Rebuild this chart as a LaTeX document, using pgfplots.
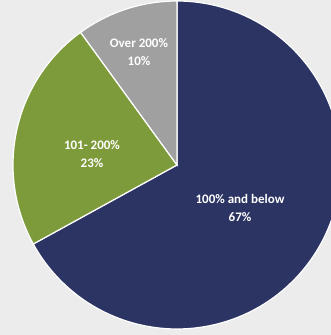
\documentclass[border=0pt]{standalone}
\usepackage{pgfplots}
\usepackage{pgfplotstable}
\pgfplotsset{compat=1.18}
\usepackage{fontspec}
\setmainfont{Carlito}
\definecolor{navy}{HTML}{2B3463}
\definecolor{leaf}{HTML}{7E9B3B}
\definecolor{stone}{HTML}{A0A0A0}
\definecolor{bg}{HTML}{ECECEC}
\pgfplotstableread{
label value
a 67
b 23
c 10
}\piedata
\pgfplotstablegetelem{0}{value}\of\piedata \let\va\pgfplotsretval
\pgfplotstablegetelem{1}{value}\of\piedata \let\vb\pgfplotsretval
\pgfplotstablegetelem{2}{value}\of\piedata \let\vc\pgfplotsretval
\pgfmathsetmacro{\aA}{90}
\pgfmathsetmacro{\aB}{90-3.6*\va}
\pgfmathsetmacro{\aC}{\aB-3.6*\vb}
\pgfmathsetmacro{\aD}{\aC-3.6*\vc}
\def\cx{177}
\def\cy{170}
\def\R{164}
\begin{document}
\begin{tikzpicture}
\begin{axis}[
  width=331pt, height=335pt, scale only axis,
  xmin=0, xmax=331, ymin=0, ymax=335,
  hide axis, clip=true,
  axis background/.style={fill=bg},
]
\addplot[fill=navy, draw=white, line width=1.2pt, domain=\aB:\aA, samples=120]
  ({\cx+\R*cos(x)}, {\cy+\R*sin(x)}) -- (axis cs:\cx,\cy) -- cycle;
\addplot[fill=leaf, draw=white, line width=1.2pt, domain=\aC:\aB, samples=60]
  ({\cx+\R*cos(x)}, {\cy+\R*sin(x)}) -- (axis cs:\cx,\cy) -- cycle;
\addplot[fill=stone, draw=white, line width=1.2pt, domain=\aD:\aC, samples=40]
  ({\cx+\R*cos(x)}, {\cy+\R*sin(x)}) -- (axis cs:\cx,\cy) -- cycle;
\node[white, align=center, font=\fontsize{13}{18}\selectfont\bfseries] at (axis cs:139,283) {Over 200\%\\10\%};
\node[white, align=center, font=\fontsize{13}{18}\selectfont\bfseries] at (axis cs:92,181) {101- 200\%\\23\%};
\node[white, align=center, font=\fontsize{13}{18}\selectfont\bfseries] at (axis cs:240,127) {100\% and below\\67\%};
\end{axis}
\end{tikzpicture}
\end{document}
